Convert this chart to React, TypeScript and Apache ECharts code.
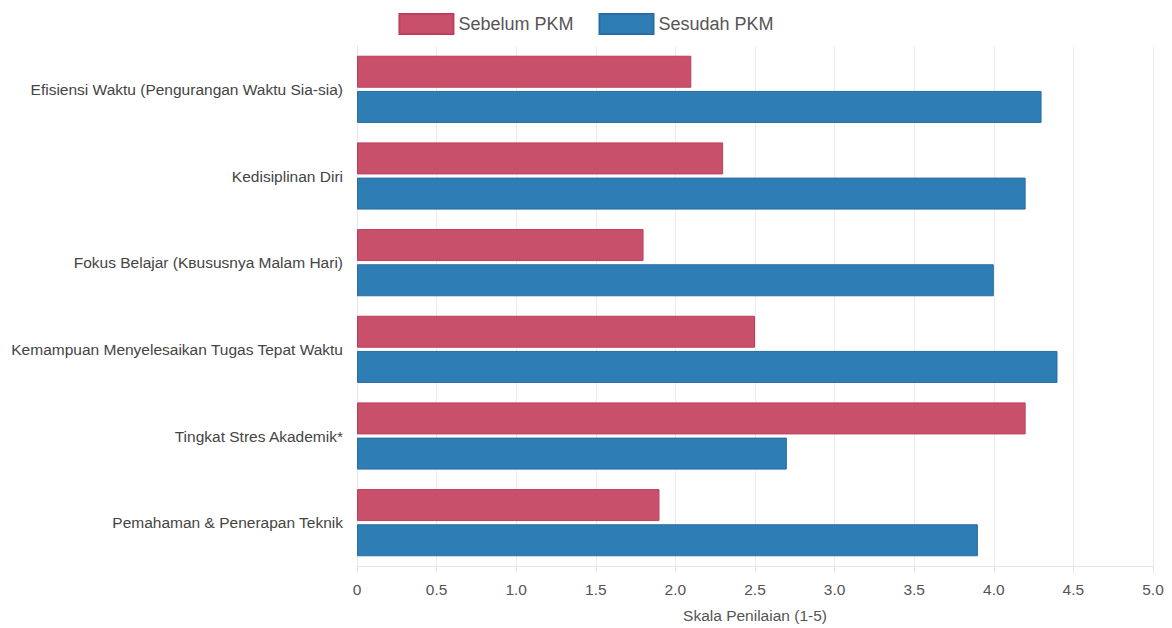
import React, { useEffect, useRef } from "react";
import * as echarts from "echarts";

const categories = [
  "Efisiensi Waktu (Pengurangan Waktu Sia-sia)",
  "Kedisiplinan Diri",
  "Fokus Belajar (Kʙususnya Malam Hari)",
  "Kemampuan Menyelesaikan Tugas Tepat Waktu",
  "Tingkat Stres Akademik*",
  "Pemahaman & Penerapan Teknik",
];
const sebelum = [2.1, 2.3, 1.8, 2.5, 4.2, 1.9];
const sesudah = [4.3, 4.2, 4.0, 4.4, 2.7, 3.9];
const xTicks = [0, 0.5, 1.0, 1.5, 2.0, 2.5, 3.0, 3.5, 4.0, 4.5, 5.0];

export default function App() {
  const ref = useRef<HTMLDivElement>(null);
  useEffect(() => {
    if (!ref.current) return;
    const chart = echarts.init(ref.current, undefined, { renderer: "svg" });
    const font = "'Liberation Sans', Arial, sans-serif";
    chart.setOption({
      animation: false,
      backgroundColor: "#ffffff",
      textStyle: { fontFamily: font },
      legend: {
        top: 8,
        left: "center",
        icon: "rect",
        itemWidth: 54,
        itemHeight: 20,
        itemGap: 25,
        textStyle: { fontSize: 18, color: "#555", fontFamily: font },
        data: ["Sebelum PKM", "Sesudah PKM"],
      },
      grid: { left: 357, right: 19, top: 46, bottom: 59, containLabel: false },
      xAxis: {
        type: "value",
        min: 0,
        max: 5,
        interval: 0.5,
        name: "Skala Penilaian (1-5)",
        nameLocation: "middle",
        nameGap: 41,
        nameTextStyle: { fontSize: 15.5, color: "#555", fontFamily: font },
        axisLabel: {
          fontSize: 15.5,
          color: "#555",
          margin: 15,
          formatter: (v: number) => {
            const found = xTicks.find((t) => Math.abs(t - v) < 1e-9);
            return found === 0 ? "0" : (found ?? v).toFixed(1);
          },
        },
        axisLine: { show: true, lineStyle: { color: "#e6e6e6" } },
        axisTick: { show: true, length: 7, lineStyle: { color: "#e6e6e6" } },
        splitLine: { show: true, lineStyle: { color: "#ececec" } },
      },
      yAxis: {
        type: "category",
        data: categories,
        inverse: true,
        axisLabel: { fontSize: 15.5, color: "#444", margin: 14 },
        axisLine: { show: true, lineStyle: { color: "#e6e6e6" } },
        axisTick: { show: false },
        splitLine: { show: false },
      },
      series: [
        {
          name: "Sebelum PKM",
          type: "bar",
          data: sebelum,
          barWidth: 32,
          barGap: "10%",
          itemStyle: { color: "#c9506a", borderColor: "#bd3f5c", borderWidth: 1 },
        },
        {
          name: "Sesudah PKM",
          type: "bar",
          data: sesudah,
          barWidth: 32,
          itemStyle: { color: "#2f7db5", borderColor: "#276da3", borderWidth: 1 },
        },
      ],
    });
    return () => chart.dispose();
  }, []);
  return (
    <div
      ref={ref}
      style={{ position: "fixed", left: 0, top: 0, width: 1172, height: 628 }}
    />
  );
}
